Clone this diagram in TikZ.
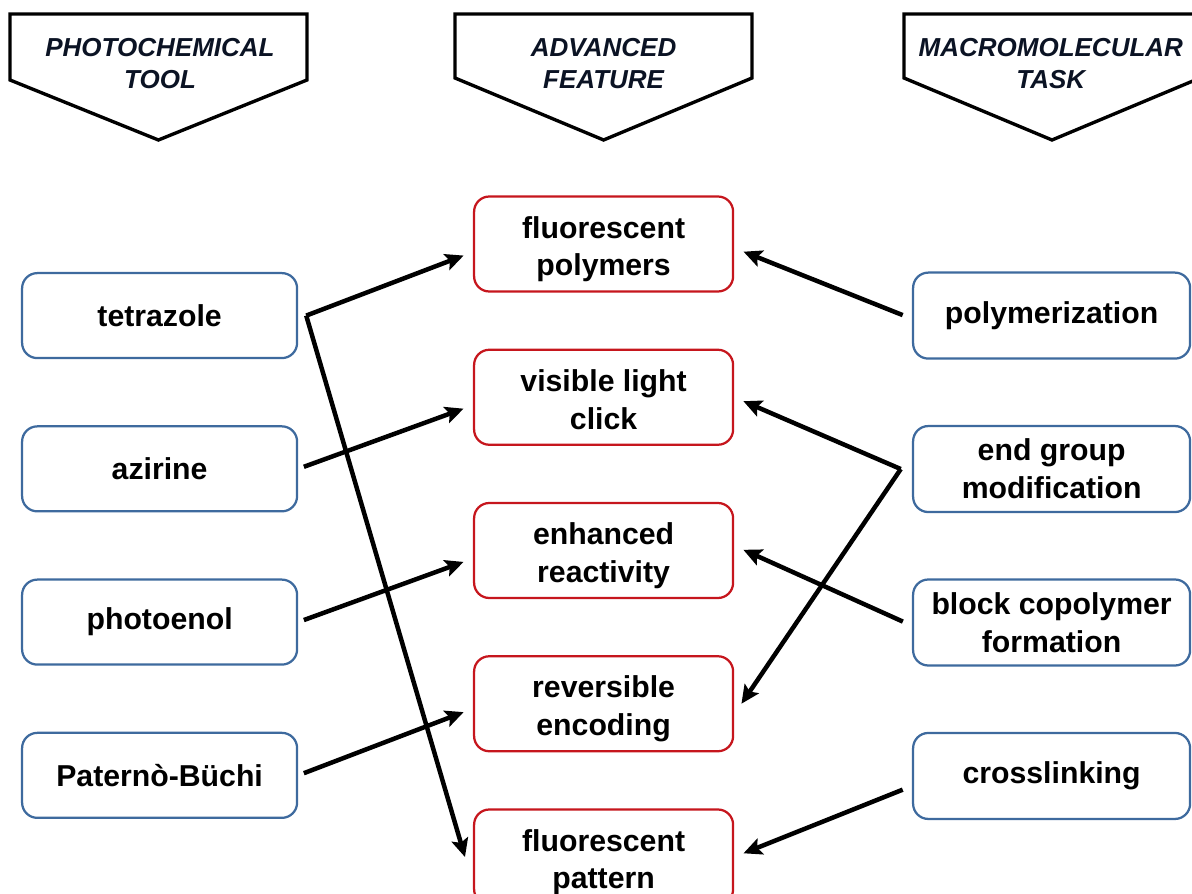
\documentclass[tikz,border=0pt]{standalone}
\usepackage{fontspec}
\setmainfont{Liberation Sans}
\usepackage{tikz}
\usetikzlibrary{arrows.meta, positioning}
\definecolor{toolblue}{HTML}{3E6A9E}
\definecolor{featred}{HTML}{C6161D}
\definecolor{hdrtext}{HTML}{0B1324}

\begin{document}
\begin{tikzpicture}[
    box/.style={draw, line width=1.6pt, rounded corners=0.38cm, fill=white, align=center,
      font=\fontsize{21.5}{27}\selectfont\bfseries},
    toolbox/.style={box, draw=toolblue, minimum width=6.875cm, minimum height=2.125cm},
    featbox/.style={box, draw=featred, minimum width=6.475cm, minimum height=2.375cm,
      text height=50pt, text depth=4.5pt},
    taskbox/.style={box, draw=toolblue, minimum width=6.925cm, minimum height=2.15cm},
    hdr/.style={draw, line width=2.4pt, line join=miter, fill=white},
    hdrlbl/.style={align=center, text=hdrtext, font=\fontsize{18.5}{22.7}\selectfont\bfseries\itshape},
    link/.style={-{Stealth[length=13pt, width=12pt, inset=2.5pt]}, line width=3.2pt,
      shorten >=0.25cm, line join=miter}]
    \useasboundingbox (0,0) rectangle (29.8,-22.35);

    % headers
    \draw[hdr] (0.25,-0.35) -- (7.675,-0.35) -- (7.675,-2.0) -- (3.96,-3.5) -- (0.25,-2.0) -- cycle;
    \draw[hdr] (11.375,-0.35) -- (18.8,-0.35) -- (18.8,-1.95) -- (15.09,-3.5) -- (11.375,-1.95) -- cycle;
    \draw[hdr] (22.6,-0.35) -- (30.0,-0.35) -- (30.0,-1.95) -- (26.3,-3.5) -- (22.6,-1.95) -- cycle;
    \node[hdrlbl] (hTool) at (4.0,-1.58) {PHOTOCHEMICAL\\TOOL};
    \node[hdrlbl] (hFeat) at (15.09,-1.58) {ADVANCED\\FEATURE};
    \node[hdrlbl] (hTask) at (26.27,-1.58) {MACROMOLECULAR\\TASK};

    % photochemical tools
    \node[toolbox] (tet) at (3.99,-7.89) {tetrazole};
    \node[toolbox, below=1.65cm of tet] (azi) {azirine};
    \node[toolbox, below=1.65cm of azi] (enol) {photoenol};
    \node[toolbox, below=1.65cm of enol] (pb) {Paternò-Büchi};

    % advanced features
    \node[featbox] (fpol) at (15.09,-6.1) {fluorescent\\polymers};
    \node[featbox, below=1.4cm of fpol] (vlc) {visible light\\click};
    \node[featbox, below=1.4cm of vlc] (enh) {enhanced\\reactivity};
    \node[featbox, below=1.4cm of enh] (rev) {reversible\\encoding};
    \node[featbox, below=1.4cm of rev] (fpat) {fluorescent\\pattern};

    % macromolecular tasks
    \node[taskbox] (poly) at (26.29,-7.89) {polymerization};
    \node[taskbox, below=1.63cm of poly] (egm) {end group\\modification};
    \node[taskbox, below=1.63cm of egm] (bcp) {block copolymer\\formation};
    \node[taskbox, below=1.63cm of bcp] (xl) {crosslinking};

    % junctions
    \coordinate (tetJ) at ([xshift=0.2cm]tet.east);
    \coordinate (egmJ) at ([xshift=-0.28cm]egm.west);

    \draw[link] (tetJ) -- ([yshift=-0.2cm]fpol.west);
    \draw[link, shorten >=0pt] (tetJ) -- ([xshift=-0.2cm]fpat.west);
    \draw[link, shorten <=0.15cm] (azi.east) -- ([yshift=-0.2cm]vlc.west);
    \draw[link, shorten <=0.15cm] (enol.east) -- ([yshift=-0.2cm]enh.west);
    \draw[link, shorten <=0.15cm] (pb.east) -- ([yshift=-0.12cm]rev.west);

    \draw[link, shorten <=0.25cm] ([yshift=-0.08cm]poly.west) -- ([yshift=-0.1cm]fpol.east);
    \draw[link] (egmJ) -- (vlc.east);
    \draw[link, shorten >=0pt] (egmJ) -- ([xshift=0.18cm]rev.east);
    \draw[link, shorten <=0.25cm] ([yshift=-0.08cm]bcp.west) -- ([yshift=0.12cm]enh.east);
    \draw[link, shorten <=0.25cm] ([yshift=-0.25cm]xl.west) -- (fpat.east);
\end{tikzpicture}
\end{document}
